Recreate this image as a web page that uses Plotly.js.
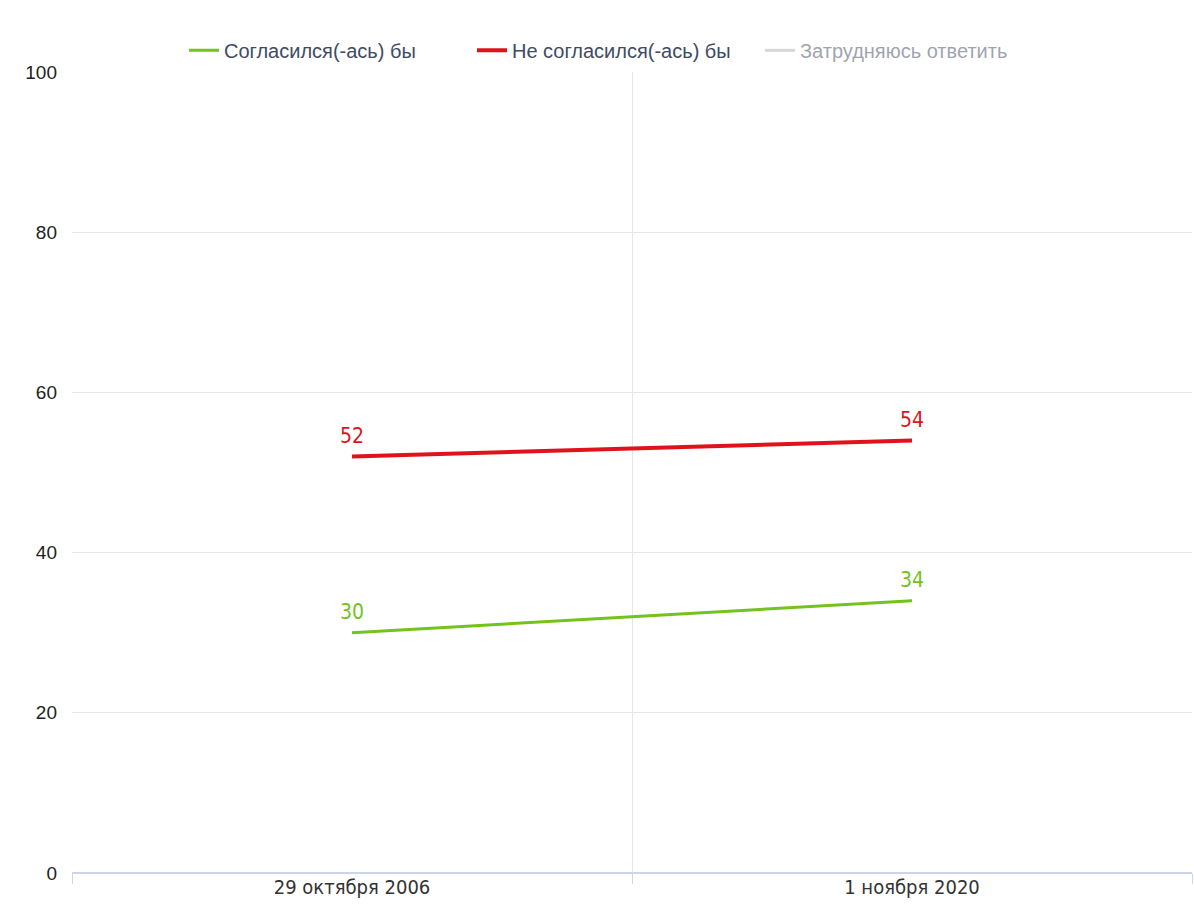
<!DOCTYPE html>
<html><head><meta charset="utf-8">
<script src="https://cdn.plot.ly/plotly-3.0.1.min.js"></script>
<style>html,body{margin:0;padding:0;background:#fff;}#chart{width:1194px;height:915px;}</style>
</head><body><div id="chart"></div>
<script>
const categories = ["29 октября 2006", "1 ноября 2020"];
const seriesNames = ["Согласился(-ась) бы", "Не согласился(-ась) бы", "Затрудняюсь ответить"];
const agree = [30, 34];
const disagree = [52, 54];
const hardToSay = [18, 12];
const yTicks = [0, 20, 40, 60, 80, 100];

const labelFont = {family: "DejaVu Sans Condensed, DejaVu Sans, sans-serif", size: 21};
const hiddenMarker = {size: 12, color: "rgba(0,0,0,0)", line: {width: 0}};
const traces = [
  {x: categories, y: agree, name: seriesNames[0], type: "scatter", mode: "lines+markers+text",
   line: {color: "#74c21c", width: 3}, marker: hiddenMarker,
   text: agree.map(String), textposition: "top center",
   textfont: Object.assign({color: "#74c21c"}, labelFont), cliponaxis: false, hoverinfo: "skip"},
  {x: categories, y: disagree, name: seriesNames[1], type: "scatter", mode: "lines+markers+text",
   line: {color: "#e0131d", width: 4}, marker: hiddenMarker,
   text: disagree.map(String), textposition: "top center",
   textfont: Object.assign({color: "#e0131d"}, labelFont), cliponaxis: false, hoverinfo: "skip"},
  {x: categories, y: hardToSay, name: seriesNames[2], type: "scatter", mode: "lines+text",
   line: {color: "#b0b0b0", width: 3}, text: hardToSay.map(String), textposition: "top center",
   visible: "legendonly", hoverinfo: "skip"}
];
const layout = {
  width: 1194, height: 915,
  margin: {l: 72, r: 2, t: 72, b: 42},
  paper_bgcolor: "#ffffff", plot_bgcolor: "#ffffff",
  showlegend: true,
  legend: {orientation: "h", x: 0.1, xanchor: "left", y: 1.027, yanchor: "middle",
    font: {family: "Liberation Sans, Arial, sans-serif", size: 20, color: "#3e4b63"},
    entrywidth: 243, entrywidthmode: "pixels", itemwidth: 30, tracegroupgap: 0},
  xaxis: {type: "category", range: [-0.5, 1.5], tickson: "boundaries", showgrid: true,
    gridcolor: "#e6e6e6", gridwidth: 1, showline: false, zeroline: false,
    ticks: "outside", ticklen: 10, tickcolor: "#ccd6eb",
    tickfont: {family: "DejaVu Sans Condensed, DejaVu Sans, sans-serif", size: 20, color: "#333333"},
    fixedrange: true},
  yaxis: {range: [0, 100], tickvals: yTicks, showgrid: true, gridcolor: "#e6e6e6", gridwidth: 1,
    zeroline: true, zerolinecolor: "#ccd6eb", zerolinewidth: 2, showline: false, ticks: "",
    ticklabelstandoff: 14,
    tickfont: {family: "Liberation Sans, Arial, sans-serif", size: 19, color: "#222222"},
    fixedrange: true}
};
Plotly.newPlot("chart", traces, layout, {displayModeBar: false, staticPlot: true});
</script></body></html>
